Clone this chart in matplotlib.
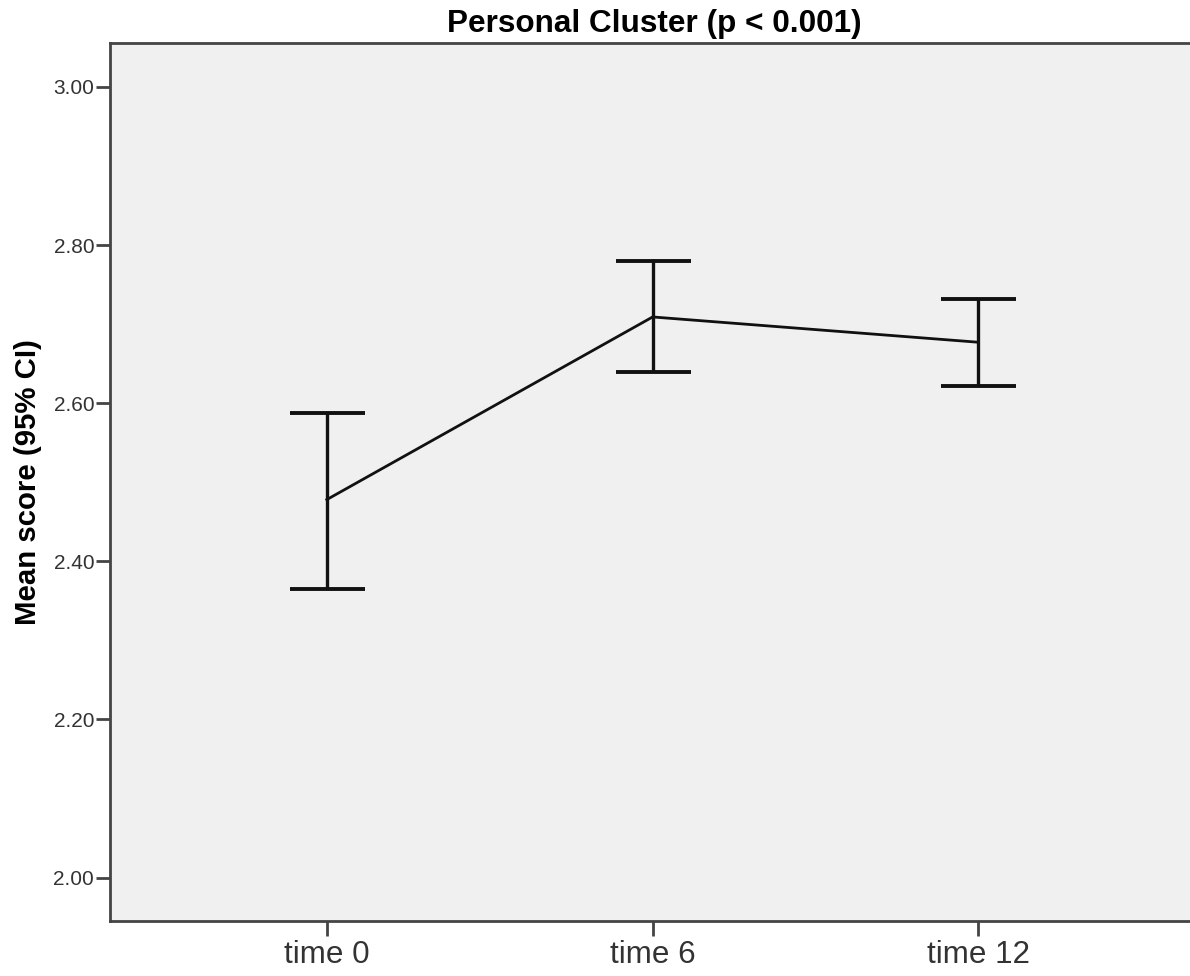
import matplotlib
matplotlib.use("Agg")
import matplotlib.pyplot as plt
import numpy as np

plt.rcParams['font.family'] = ['Liberation Sans', 'DejaVu Sans']

categories = ["time 0", "time 6", "time 12"]
means = [2.478, 2.709, 2.677]
upper = [2.588, 2.780, 2.732]
lower = [2.365, 2.639, 2.622]
yticks = [2.00, 2.20, 2.40, 2.60, 2.80, 3.00]

fig = plt.figure(figsize=(11.9, 9.76), dpi=100)
ax = fig.add_axes([109.5/1190, 1-921/976, (1200-109.5)/1190, (921-43)/976])
ax.set_facecolor('#f0f0f0')

x = np.arange(len(categories))
m = np.array(means)
yerr = np.vstack([m - np.array(lower), np.array(upper) - m])
ax.plot(x, m, color='#111111', lw=2.0, zorder=3)
ax.errorbar(x, m, yerr=yerr, fmt='none', ecolor='#111111', elinewidth=2.4,
            capsize=27, capthick=2.8, zorder=4)

ax.set_xlim(-0.667, 2.68)
ax.set_ylim(1.945, 3.0555)
ax.set_xticks(x)
ax.set_xticklabels(categories)
ax.set_yticks(yticks)
ax.set_yticklabels([f"{v:.2f}" for v in yticks])

for s in ['left', 'top', 'bottom']:
    ax.spines[s].set_color('#444444')
    ax.spines[s].set_linewidth(2)
ax.spines['right'].set_visible(False)

ax.tick_params(axis='y', direction='out', length=10, width=2, color='#444444',
               labelsize=15, labelcolor='#333333', pad=1)
ax.tick_params(axis='x', direction='out', length=11, width=2, color='#444444',
               labelsize=22.6, labelcolor='#333333', pad=3)

ax.set_title("Personal Cluster (p < 0.001)", fontsize=22.7, fontweight='bold',
             color='#000000', pad=8)
ax.set_ylabel("Mean score (95% CI)", fontsize=21.2, fontweight='bold',
              color='#000000', labelpad=8)

fig.savefig("out.png", dpi=100)
